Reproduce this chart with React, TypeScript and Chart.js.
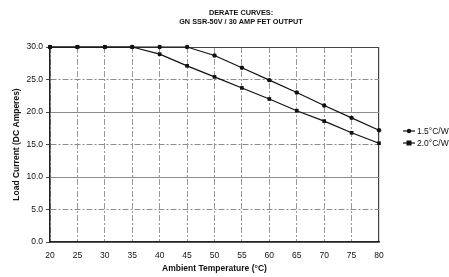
import React, { useEffect, useRef } from "react";
import { Chart, registerables } from "chart.js";

Chart.register(...registerables);

const titleLines = ["DERATE CURVES:", "GN SSR-50V / 30 AMP FET OUTPUT"];
const temperatures = [20, 25, 30, 35, 40, 45, 50, 55, 60, 65, 70, 75, 80];
const series15 = [30, 30, 30, 30, 30, 30, 28.7, 26.8, 24.9, 23.0, 21.0, 19.1, 17.2];
const series20 = [30, 30, 30, 30, 28.9, 27.1, 25.4, 23.7, 22.0, 20.2, 18.6, 16.8, 15.2];
const seriesLabels = ["1.5°C/W", "2.0°C/W"];
const xTitle = "Ambient Temperature (°C)";
const yTitle = "Load Current (DC Amperes)";

const FONT = "'Liberation Sans', Arial, sans-serif";

const titlePlugin = {
  id: "twoLineTitle",
  afterDraw(chart: any) {
    const ctx = chart.ctx;
    ctx.save();
    ctx.fillStyle = "#111";
    ctx.font = `bold 7.3px ${FONT}`;
    ctx.textAlign = "center";
    ctx.textBaseline = "middle";
    ctx.fillText(titleLines[0], 241, 13);
    ctx.fillText(titleLines[1], 241, 22);
    ctx.restore();
  },
};

const legendPlugin = {
  id: "lineLegend",
  afterDraw(chart: any) {
    const ctx = chart.ctx;
    const area = chart.chartArea;
    ctx.save();
    chart.data.datasets.forEach((ds: any, i: number) => {
      const y = 131 + i * 12;
      const x0 = area.right + 24;
      ctx.strokeStyle = "#111";
      ctx.lineWidth = 1.2;
      ctx.beginPath();
      ctx.moveTo(x0, y);
      ctx.lineTo(x0 + 12, y);
      ctx.stroke();
      ctx.fillStyle = "#111";
      if (ds.pointStyle === "rect") {
        ctx.fillRect(x0 + 6 - 2.5, y - 2.5, 5, 5);
      } else {
        ctx.beginPath();
        ctx.arc(x0 + 6, y, 2.2, 0, Math.PI * 2);
        ctx.fill();
      }
      ctx.font = `8.5px ${FONT}`;
      ctx.textAlign = "left";
      ctx.textBaseline = "middle";
      ctx.fillText(ds.label, x0 + 14, y + 0.5);
    });
    ctx.restore();
  },
};

export default function App() {
  const ref = useRef<HTMLCanvasElement | null>(null);

  useEffect(() => {
    document.body.style.margin = "0";
    const canvas = ref.current;
    if (!canvas) return;
    const chart = new Chart(canvas, {
      type: "line",
      data: {
        datasets: [
          {
            label: seriesLabels[0],
            data: temperatures.map((t, i) => ({ x: t, y: series15[i] })),
            borderColor: "#111",
            backgroundColor: "#111",
            borderWidth: 1.2,
            pointStyle: "circle",
            pointRadius: 2.2,
            pointBorderWidth: 0,
            clip: false as any,
          },
          {
            label: seriesLabels[1],
            data: temperatures.map((t, i) => ({ x: t, y: series20[i] })),
            borderColor: "#111",
            backgroundColor: "#111",
            borderWidth: 1.2,
            pointStyle: "rect",
            pointRadius: 2.6,
            pointBorderWidth: 0,
            clip: false as any,
          },
        ],
      },
      options: {
        responsive: false,
        animation: false,
        devicePixelRatio: 1,
        layout: { padding: { top: 47, right: 70, left: 0, bottom: 0 } },
        plugins: {
          legend: { display: false },
          title: { display: false },
          tooltip: { enabled: false },
        },
        scales: {
          x: {
            type: "linear",
            min: 20,
            max: 80,
            afterFit: (scale: any) => {
              scale.height = 35;
            },
            ticks: {
              stepSize: 5,
              padding: 6,
              color: "#111",
              font: { family: FONT, size: 8.5 },
            },
            grid: {
              tickLength: 3,
              tickColor: "rgba(0,0,0,0)",
              color: (c: any) => (c.tick && c.tick.value === 80 ? "#444" : "#999"),
              lineWidth: (c: any) => (c.tick && c.tick.value === 80 ? 1.2 : 1),
            },
            border: {
              color: "#222",
              width: 1.5,
              dash: (c: any) => (c.tick && c.tick.value === 80 ? [] : [6, 2, 2, 2]),
            },
            title: {
              display: true,
              text: xTitle,
              color: "#111",
              font: { family: FONT, size: 8.5, weight: "bold" },
              padding: { top: 0, bottom: 3 },
            },
          },
          y: {
            type: "linear",
            min: 0,
            max: 30,
            afterFit: (scale: any) => {
              scale.width = 50;
            },
            ticks: {
              stepSize: 5,
              padding: 3,
              color: "#111",
              font: { family: FONT, size: 8.5 },
              callback: (v: any) => Number(v).toFixed(1),
            },
            grid: {
              tickLength: 4,
              tickColor: "#444",
              color: (c: any) => (c.tick && c.tick.value === 30 ? "#444" : "#8c8c8c"),
            },
            border: {
              color: "#222",
              width: 1.5,
              dash: (c: any) => (c.tick && (c.tick.value === 30 || c.tick.value % 10 !== 5) ? [] : [6, 2, 2, 2]),
            },
            title: {
              display: true,
              text: yTitle,
              color: "#111",
              font: { family: FONT, size: 8.5, weight: "bold" },
              padding: { top: 12, bottom: 0 },
            },
          },
        },
      },
      plugins: [titlePlugin, legendPlugin],
    } as any);
    return () => chart.destroy();
  }, []);

  return (
    <div style={{ width: 449, height: 277, background: "#fff" }}>
      <canvas ref={ref} width={449} height={277} style={{ display: "block" }} />
    </div>
  );
}
